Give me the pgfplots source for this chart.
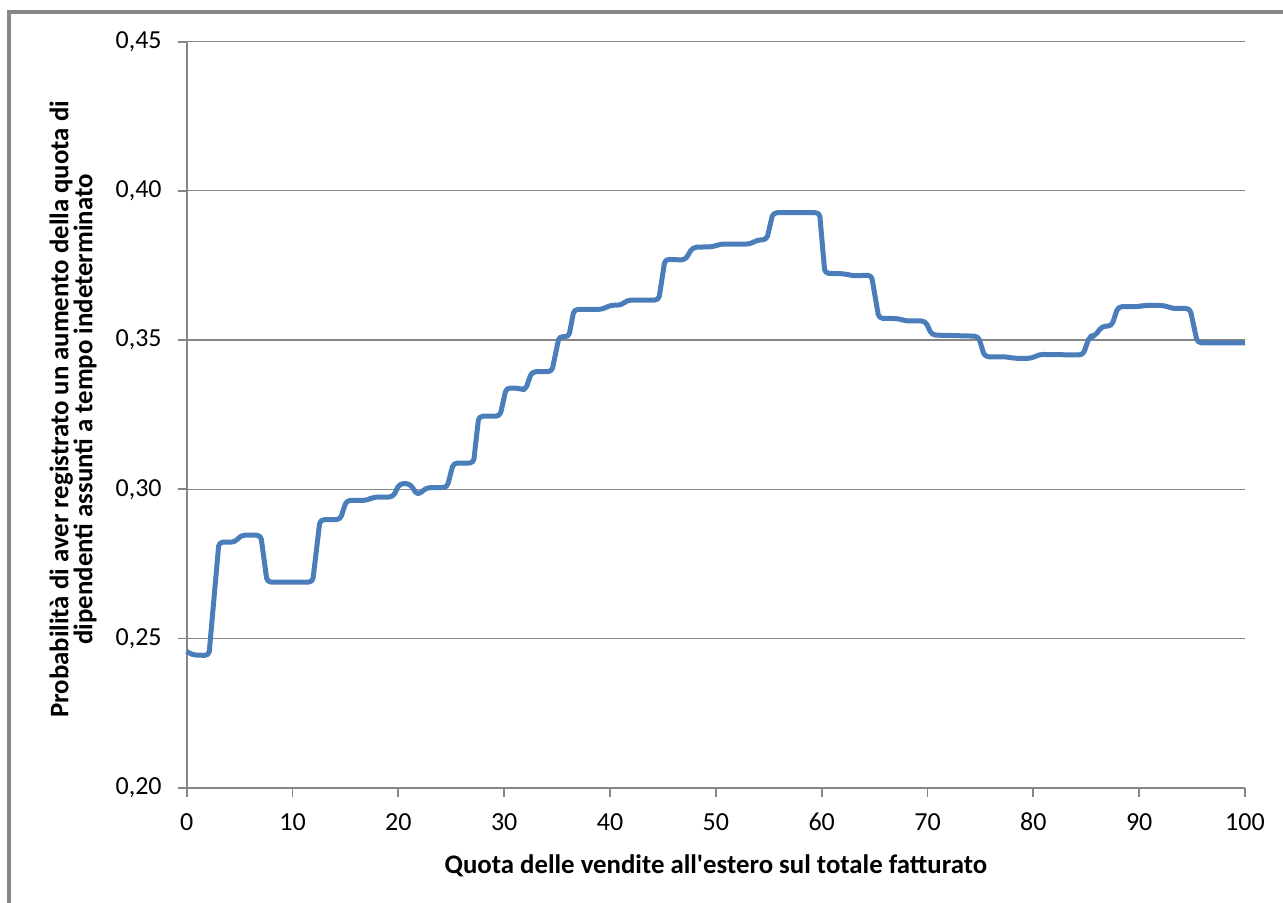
\documentclass[border=0pt]{standalone}
\usepackage{pgfplots}
\pgfplotsset{compat=1.18}
\usepackage{fontspec}
\setmainfont{Carlito}
\definecolor{lineblue}{RGB}{74,126,187}
\definecolor{gridgray}{RGB}{134,134,134}
\begin{document}
\begin{tikzpicture}
\useasboundingbox (-93.35pt,-57.65pt) rectangle (548.15pt,393.85pt);
\begin{axis}[
  scale only axis,
  width=529.15pt, height=373pt,
  xmin=0, xmax=100, ymin=0.20, ymax=0.45,
  xtick={0,10,...,100},
  ytick={0.20,0.25,0.30,0.35,0.40,0.45},
  axis x line*=bottom, axis y line*=left,
  axis line style={-, draw=gridgray, line width=0.9pt},
  tick align=outside,
  major tick length=4.5pt,
  tick style={draw=gridgray, line width=0.9pt},
  ymajorgrids,
  grid style={draw=gridgray, line width=0.6pt},
  font=\fontsize{13}{15}\selectfont,
  /pgf/number format/assume math mode=true,
  yticklabel style={/pgf/number format/fixed, /pgf/number format/fixed zerofill, /pgf/number format/precision=2, /pgf/number format/use comma},
  yticklabel style={anchor=east, inner sep=0pt, xshift=-7.85pt, font=\fontsize{13}{15}\selectfont},
  xticklabel style={anchor=base, inner sep=0pt, yshift=-16.8pt, font=\fontsize{13}{15}\selectfont},
  xlabel={Quota delle vendite all\textquotesingle estero sul totale fatturato},
  xlabel style={at={(axis description cs:0.5,-0.1155)}, anchor=base, font=\bfseries\fontsize{13.4}{15}\selectfont},
  ylabel={Probabilità di aver registrato un aumento della quota di\\dipendenti assunti a tempo indeterminato},
  ylabel style={at={(axis description cs:-0.1074,0.507)}, anchor=center, align=center, font=\bfseries\fontsize{13.4}{12}\selectfont},
  clip=false,
]
\addplot[color=lineblue, line width=2.5pt, line join=round, rounded corners=2pt] coordinates {
(0,0.2457) (0.5,0.2445) (2.1,0.2443) (3.05,0.2823) (4.6,0.2823) (5.1,0.2846) (7.0,0.2846)
(7.6,0.2689) (11.9,0.2689) (12.6,0.2898) (14.5,0.2898) (15.1,0.2963) (17.1,0.2963)
(17.6,0.2974) (19.5,0.2974) (20.1,0.3019) (21.1,0.3019) (21.8,0.2980) (22.7,0.3006)
(24.6,0.3006) (25.2,0.3088) (27.1,0.3088) (27.6,0.3245) (29.6,0.3245) (30.2,0.3340)
(31.5,0.3338) (32.0,0.3332) (32.6,0.3394) (34.5,0.3394) (35.2,0.3513) (36.1,0.3510)
(36.6,0.3603) (39.3,0.3603) (40.0,0.3617) (41.1,0.3617) (41.6,0.3634) (44.6,0.3634)
(45.2,0.3771) (47.1,0.3768) (47.8,0.3811) (49.8,0.3813) (50.4,0.3822) (53.3,0.3822)
(53.9,0.3836) (54.8,0.3836) (55.4,0.3927) (59.8,0.3927) (60.3,0.3724) (62.2,0.3722)
(63.0,0.3715) (64.7,0.3718) (65.4,0.3573) (67.3,0.3572) (67.9,0.3564) (69.8,0.3564)
(70.4,0.3517) (74.8,0.3513) (75.4,0.3444) (77.5,0.3444) (78.1,0.3439) (79.9,0.3439)
(80.5,0.3452) (84.7,0.3450) (85.3,0.3513) (85.8,0.3513) (86.5,0.3547) (87.4,0.3547)
(88.0,0.3612) (89.9,0.3612) (90.4,0.3616) (92.4,0.3616) (93.1,0.3606) (94.8,0.3606)
(95.5,0.3491) (100,0.3491)
};
\end{axis}
\draw[draw=gridgray, line width=1.6pt] (-88.85pt,-60pt) -- (-88.85pt,387.85pt) -- (550pt,387.85pt);
\end{tikzpicture}
\end{document}
